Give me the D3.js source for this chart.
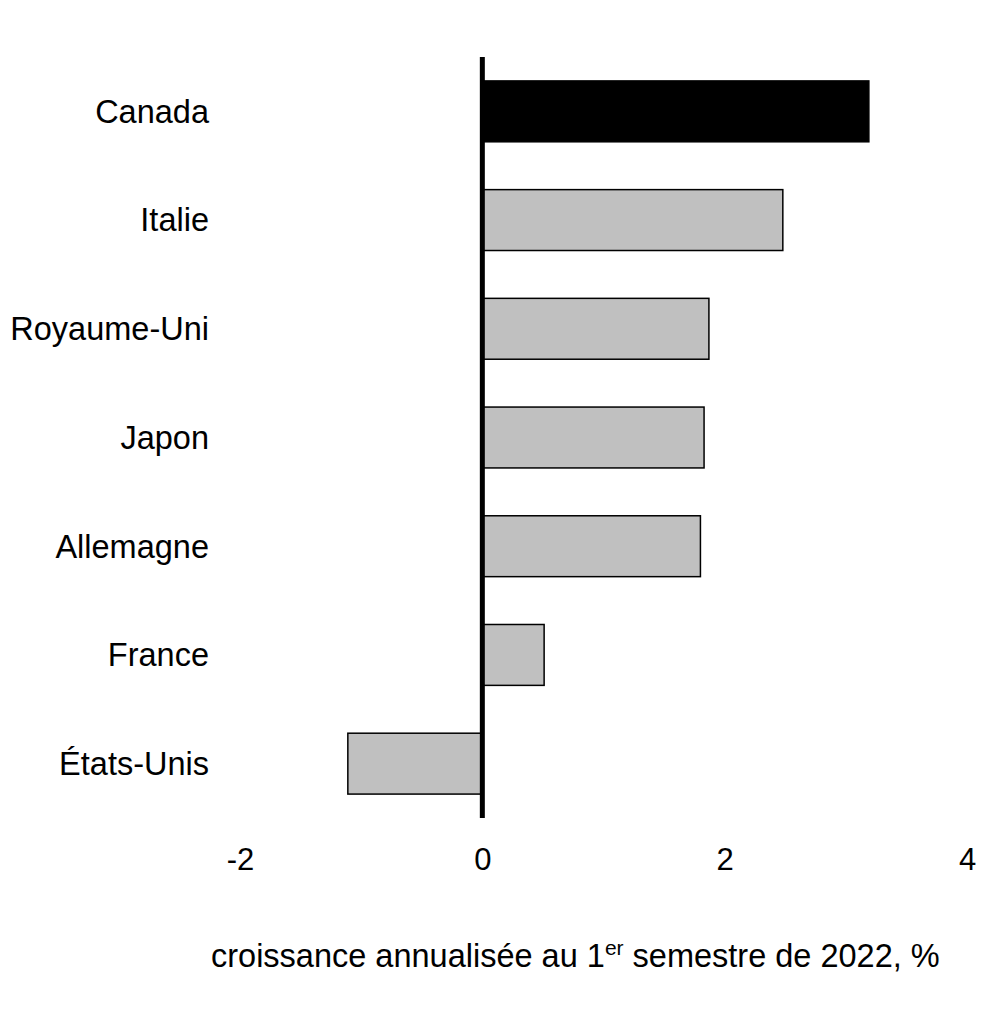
<!DOCTYPE html>
<html>
<head>
<meta charset="utf-8">
<script src="https://cdn.jsdelivr.net/npm/d3@7"></script>
<style>
  html, body { margin: 0; padding: 0; background: #fff; }
  svg { display: block; font-family: "Liberation Sans", Arial, sans-serif; }
</style>
</head>
<body>
<svg id="chart"></svg>
<script>
/* Croissance annualisée du PIB au 1er semestre 2022, pays du G7 (barres horizontales). */
const COUNTRIES = ["Canada", "Italie", "Royaume-Uni", "Japon", "Allemagne", "France", "États-Unis"];
const GROWTH = [3.19, 2.48, 1.87, 1.83, 1.80, 0.51, -1.11];
const X_TICKS = [-2, 0, 2, 4];
const HIGHLIGHT = "Canada";

(function () {
    const W = 1004, H = 1025;
    const svg = d3.select("#chart").attr("width", W).attr("height", H);

    const xScale = d3.scaleLinear().domain([-2, 4]).range([240, 967]);
    const yScale = d3.scaleBand().domain(COUNTRIES).range([57, 818]).paddingInner(0.44).paddingOuter(0.22);

    const rows = COUNTRIES.map((c, i) => ({ c, v: GROWTH[i] }));

    // Bars
    svg.append("g").selectAll("rect")
        .data(rows)
        .join("rect")
        .attr("x", d => xScale(Math.min(0, d.v)))
        .attr("y", d => yScale(d.c))
        .attr("width", d => Math.abs(xScale(d.v) - xScale(0)))
        .attr("height", yScale.bandwidth())
        .attr("fill", d => d.c === HIGHLIGHT ? "#000" : "#c0c0c0")
        .attr("stroke", "#000")
        .attr("stroke-width", 1.5);

    // Zero line
    svg.append("line")
        .attr("x1", xScale(0)).attr("x2", xScale(0))
        .attr("y1", 57).attr("y2", 818)
        .attr("stroke", "#000").attr("stroke-width", 5);

    // Category labels
    svg.append("g").selectAll("text")
        .data(rows)
        .join("text")
        .attr("x", 209)
        .attr("y", d => yScale(d.c) + yScale.bandwidth() / 2)
        .attr("dy", "0.35em")
        .attr("text-anchor", "end")
        .attr("font-size", 32.5)
        .attr("fill", "#000")
        .text(d => d.c);

    // X axis (labels only)
    const xAxis = svg.append("g").attr("transform", "translate(0, 870)")
        .call(d3.axisBottom(xScale).tickValues(X_TICKS).tickFormat(d => String(d)).tickSize(0).tickPadding(0));
    xAxis.select(".domain").remove();
    xAxis.selectAll("text")
        .attr("font-size", 31)
        .attr("font-family", "'Liberation Sans', Arial, sans-serif")
        .attr("fill", "#000")
        .attr("dy", 0)
        .attr("y", 0);

    // Axis title with superscript
    const title = svg.append("text")
        .attr("x", 211).attr("y", 967)
        .attr("font-size", 32.5)
        .attr("fill", "#000");
    title.append("tspan").text("croissance annualisée au 1");
    title.append("tspan").attr("font-size", 21).attr("dy", -12).text("er");
    title.append("tspan").attr("dy", 12).text(" semestre de 2022, %");
})();
</script>
</body>
</html>
